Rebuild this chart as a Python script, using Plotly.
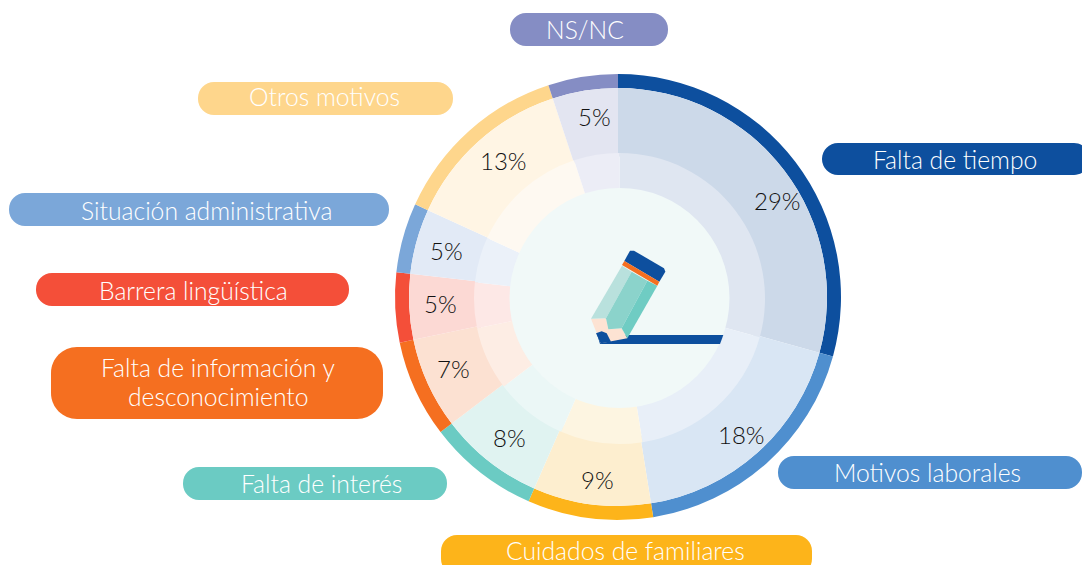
import plotly.graph_objects as go

W, H = 1082, 565
CX, CY = 618, 297
R_OUT, R_MID = 223, 209
IN_CX, IN_CY, R_IN = 619.5, 298.5, 145.5
CORE_CX, CORE_CY, R_CORE = 619.5, 298, 110

categories = ["Falta de tiempo", "Motivos laborales", "Cuidados de familiares", "Falta de interés",
              "Falta de información y desconocimiento", "Barrera lingüística",
              "Situación administrativa", "Otros motivos", "NS/NC"]
values = [29, 18, 9, 8, 7, 5, 5, 13, 5]
percent_labels = ["29%", "18%", "9%", "8%", "7%", "5%", "5%", "13%", "5%"]
colors_outer = ["#0d4f9e", "#4f8fcf", "#fdb41a", "#6bcbc3", "#f56f20", "#f44f39", "#7ba7d9", "#fed68c", "#858dc4"]
colors_mid = ["#ccd9e9", "#d9e6f4", "#fdeecf", "#e0f3f1", "#fce1d2", "#fcd9d4", "#e2eaf6", "#fff5e4", "#e3e5f1"]
colors_in = ["#dfe6f1", "#e8eff8", "#fdf5e1", "#ebf7f6", "#fdede4", "#fde8e6", "#ebf1f9", "#fef9f1", "#ecedf6"]

pct_pos = [(777, 200), (741, 434), (597, 479), (509, 437), (453, 369), (440, 303), (446, 250), (503, 161), (594, 116)]
pills = [
    (["Falta de tiempo"], 822, 143, 1090, 175, 16, (955, 159)),
    (["Motivos laborales"], 778, 456, 1082, 489, 16, (927, 472)),
    (["Cuidados de familiares"], 441, 535, 812, 575, 16, (625, 550)),
    (["Falta de interés"], 183, 467, 447, 500, 16, (321, 483)),
    (["Falta de información y", "desconocimiento"], 51, 347, 383, 419, 26, (218, 382)),
    (["Barrera lingüística"], 36, 273, 349, 306, 16, (193, 290)),
    (["Situación administrativa"], 9, 193, 389, 226, 16, (206, 210)),
    (["Otros motivos"], 198, 82, 453, 115, 16, (324, 97)),
    (["NS/NC"], 510, 13, 668, 46, 16, (585, 29)),
]
LINE_GAP = 29


def px(x):
    return x / W


def py(y):
    return 1 - y / H


def path(points):
    return "M" + " L".join(f"{px(x):.5f},{py(y):.5f}" for x, y in points) + " Z"


def pill_path(x0, y0, x1, y1, r):
    k = r * 0.448
    seq = [("M", x0 + r, y0), ("L", x1 - r, y0),
           ("C", x1 - k, y0, x1, y0 + k, x1, y0 + r), ("L", x1, y1 - r),
           ("C", x1, y1 - k, x1 - k, y1, x1 - r, y1), ("L", x0 + r, y1),
           ("C", x0 + k, y1, x0, y1 - k, x0, y1 - r), ("L", x0, y0 + r),
           ("C", x0, y0 + k, x0 + k, y0, x0 + r, y0)]
    out = []
    for s in seq:
        coords = s[1:]
        parts = [f"{px(coords[i]):.5f},{py(coords[i + 1]):.5f}" for i in range(0, len(coords), 2)]
        out.append(s[0] + " ".join(parts))
    return " ".join(out) + " Z"


def ring(cx, cy, radius, hole, cols):
    return go.Pie(
        values=values, labels=categories, sort=False, direction="clockwise", rotation=0,
        hole=hole, textinfo="none", showlegend=False,
        marker=dict(colors=cols, line=dict(width=0)),
        domain=dict(x=[px(cx - radius), px(cx + radius)], y=[py(cy + radius), py(cy - radius)]),
    )


fig = go.Figure([
    ring(CX, CY, R_OUT, R_MID / R_OUT, colors_outer),
    ring(CX, CY, R_MID, (R_IN - 5) / R_MID, colors_mid),
    ring(IN_CX, IN_CY, R_IN, (R_CORE - 5) / R_IN, colors_in),
])

shapes = [dict(type="circle", xref="paper", yref="paper", layer="above",
               x0=px(CORE_CX - R_CORE), x1=px(CORE_CX + R_CORE), y0=py(CORE_CY + R_CORE), y1=py(CORE_CY - R_CORE),
               fillcolor="#f1f9f8", line=dict(width=0))]


def z(pts):
    return [(540 + a / 3, 220 + b / 3) for a, b in pts]


pencil = [
    ([(262, 345), (550, 345), (540, 372), (180, 372), (172, 345)], "#0d4f9e"),
    ([(153, 296), (198, 295), (205, 328), (245, 325), (262, 355), (182, 370)], "#fde3d3"),
    ([(168, 340), (185, 334), (200, 340), (213, 365), (182, 370)], "#0d4f9e"),
    ([(246, 137), (275, 155), (198, 295), (153, 296)], "#b9e1dd"),
    ([(275, 155), (322, 182), (245, 325), (205, 328), (198, 295)], "#8bd3cb"),
    ([(322, 182), (352, 197), (262, 355), (245, 325)], "#6fccc3"),
    ([(270, 92), (282, 92), (372, 145), (376, 155), (358, 185), (253, 123)], "#0d4f9e"),
    ([(253, 123), (358, 185), (352, 197), (246, 135)], "#f56f20"),
]
for pts, col in pencil:
    shapes.append(dict(type="path", xref="paper", yref="paper", layer="above",
                       path=path(z(pts)), fillcolor=col, line=dict(width=0)))

annotations = []
for lab, (x, y) in zip(percent_labels, pct_pos):
    annotations.append(dict(text=lab, x=px(x), y=py(y), xref="paper", yref="paper", showarrow=False,
                            xanchor="center", yanchor="middle",
                            font=dict(family="Lato", size=24, weight=300, color="#111111")))

for (lines, x0, y0, x1, y1, r, (tx, ty)), col in zip(pills, colors_outer):
    shapes.append(dict(type="path", xref="paper", yref="paper", layer="above",
                       path=pill_path(x0, y0, x1, y1, r), fillcolor=col, line=dict(width=0)))
    top = ty - LINE_GAP * (len(lines) - 1) / 2
    for i, line in enumerate(lines):
        annotations.append(dict(text=line, x=px(tx), y=py(top + i * LINE_GAP), xref="paper", yref="paper",
                                showarrow=False, xanchor="center", yanchor="middle", align="center",
                                font=dict(family="Lato", size=24.7, weight=300, color="white")))

fig.update_layout(width=W, height=H, margin=dict(l=0, r=0, t=0, b=0), autosize=False,
                  paper_bgcolor="white", plot_bgcolor="white", shapes=shapes, annotations=annotations)
fig.write_html("out.html", config={"displayModeBar": False},
               post_script="document.body.style.margin='0';document.documentElement.style.overflow='hidden';")
